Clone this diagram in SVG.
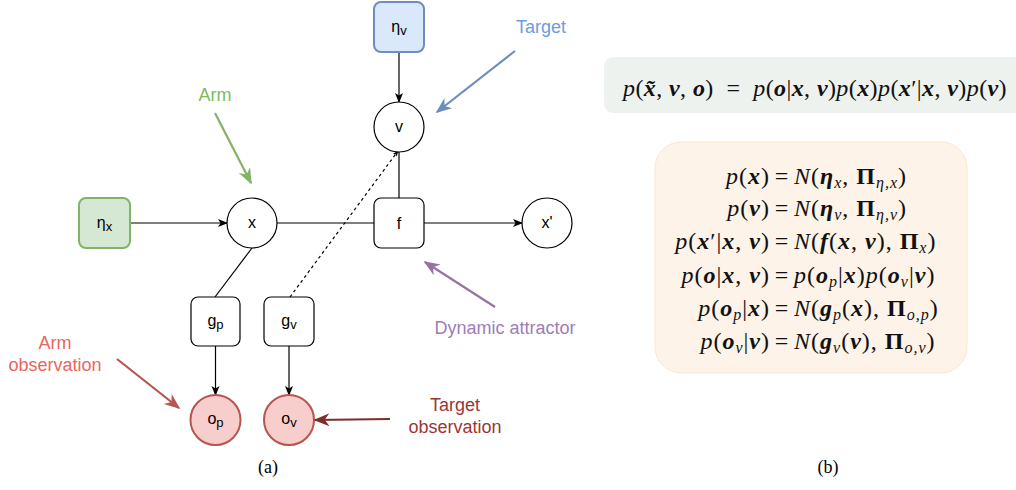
<svg xmlns="http://www.w3.org/2000/svg" width="1016" height="490" viewBox="0 0 1016 490">
  <defs>
    <style>
      .node { fill: #ffffff; stroke: #000000; stroke-width: 1.2; }
      .prior-v { fill: #dae8fc; stroke: #6c8ebf; stroke-width: 2; }
      .prior-x { fill: #d5e8d4; stroke: #82b366; stroke-width: 2; }
      .obs { fill: #f8cecc; stroke: #b85450; stroke-width: 2; }
      .lbl { font-family: "Liberation Sans", Arial, sans-serif; font-size: 16px; fill: #000; text-anchor: middle; }
      .sub { font-size: 13px; }
      .edge { fill: none; stroke: #000; stroke-width: 1.2; }
      .dash { stroke-dasharray: 3 3; }
      .note { font-family: "Liberation Sans", Arial, sans-serif; font-size: 18px; text-anchor: middle; }
      .cap { font-family: "Liberation Serif", "Times New Roman", serif; font-size: 18px; text-anchor: middle; fill: #000; }
      .m { font-family: "Liberation Serif", "DejaVu Serif", serif; font-size: 24px; fill: #111; }
      .wide { letter-spacing: 1px; }
      .i { font-style: italic; }
      .b { font-style: italic; font-weight: bold; }
      .B { font-weight: bold; font-style: normal; }
      .s { font-size: 16px; }
    </style>
    <marker id="ah" viewBox="0 0 10 10" refX="9" refY="5" markerWidth="10" markerHeight="10" markerUnits="userSpaceOnUse" orient="auto">
      <path d="M0,1 L10,5 L0,9 L2.5,5 Z" fill="#000"/>
    </marker>
    <marker id="ah-small" viewBox="0 0 10 10" refX="9" refY="5" markerWidth="6" markerHeight="6" markerUnits="userSpaceOnUse" orient="auto">
      <path d="M0,1 L10,5 L0,9 L2.5,5 Z" fill="#000"/>
    </marker>
    <marker id="ah-green" viewBox="0 0 10 10" refX="9" refY="5" markerWidth="16" markerHeight="16" markerUnits="userSpaceOnUse" orient="auto">
      <path d="M0,1 L10,5 L0,9 L3,5 Z" fill="#82b366"/>
    </marker>
    <marker id="ah-blue" viewBox="0 0 10 10" refX="9" refY="5" markerWidth="16" markerHeight="16" markerUnits="userSpaceOnUse" orient="auto">
      <path d="M0,1 L10,5 L0,9 L3,5 Z" fill="#6c8ebf"/>
    </marker>
    <marker id="ah-purple" viewBox="0 0 10 10" refX="9" refY="5" markerWidth="16" markerHeight="16" markerUnits="userSpaceOnUse" orient="auto">
      <path d="M0,1 L10,5 L0,9 L3,5 Z" fill="#9673a6"/>
    </marker>
    <marker id="ah-red" viewBox="0 0 10 10" refX="9" refY="5" markerWidth="16" markerHeight="16" markerUnits="userSpaceOnUse" orient="auto">
      <path d="M0,1 L10,5 L0,9 L3,5 Z" fill="#b85450"/>
    </marker>
    <marker id="ah-dark" viewBox="0 0 10 10" refX="9" refY="5" markerWidth="16" markerHeight="16" markerUnits="userSpaceOnUse" orient="auto">
      <path d="M0,1 L10,5 L0,9 L3,5 Z" fill="#7a2e2e"/>
    </marker>
  </defs>

  <rect width="1016" height="490" fill="#ffffff"/>

  <!-- connectors of the graph -->
  <g id="connectors">
    <line class="edge" x1="399" y1="52" x2="399" y2="102" marker-end="url(#ah)"/>
    <line class="edge" x1="130" y1="223" x2="227" y2="223" marker-end="url(#ah)"/>
    <line class="edge" x1="277" y1="223" x2="374" y2="223"/>
    <line class="edge" x1="424" y1="223" x2="522" y2="223" marker-end="url(#ah)"/>
    <line class="edge" x1="399" y1="198" x2="399" y2="152"/>
    <line class="edge dash" x1="290" y1="297" x2="398" y2="151" marker-end="url(#ah-small)"/>
    <line class="edge" x1="252" y1="248" x2="215" y2="297"/>
    <line class="edge" x1="215.5" y1="346" x2="215.5" y2="395" marker-end="url(#ah)"/>
    <line class="edge" x1="289" y1="346" x2="289" y2="395" marker-end="url(#ah)"/>
  </g>

  <g id="eta_v">
    <rect class="prior-v" x="374" y="2" width="50" height="50" rx="7"/>
    <text class="lbl" x="399" y="32">η<tspan class="sub" dy="3">v</tspan></text>
  </g>
  <g id="v">
    <circle class="node" cx="399" cy="127" r="25"/>
    <text class="lbl" x="399" y="132">v</text>
  </g>
  <g id="eta_x">
    <rect class="prior-x" x="79" y="198" width="51" height="50" rx="7"/>
    <text class="lbl" x="104.5" y="228">η<tspan class="sub" dy="3">x</tspan></text>
  </g>
  <g id="x">
    <circle class="node" cx="252" cy="223" r="25"/>
    <text class="lbl" x="252" y="228">x</text>
  </g>
  <g id="f">
    <rect class="node" x="374" y="198" width="50" height="50" rx="7"/>
    <text class="lbl" x="399" y="229">f</text>
  </g>
  <g id="x_prime">
    <circle class="node" cx="547" cy="223" r="25"/>
    <text class="lbl" x="547" y="228">x'</text>
  </g>
  <g id="g_p">
    <rect class="node" x="191" y="297" width="49" height="49" rx="7"/>
    <text class="lbl" x="215.5" y="326">g<tspan class="sub" dy="3">p</tspan></text>
  </g>
  <g id="g_v">
    <rect class="node" x="264" y="297" width="50" height="49" rx="7"/>
    <text class="lbl" x="289" y="326">g<tspan class="sub" dy="3">v</tspan></text>
  </g>
  <g id="o_p">
    <circle class="obs" cx="215.5" cy="420" r="25"/>
    <text class="lbl" x="215.5" y="424">o<tspan class="sub" dy="3">p</tspan></text>
  </g>
  <g id="o_v">
    <circle class="obs" cx="289" cy="420" r="25"/>
    <text class="lbl" x="289" y="424">o<tspan class="sub" dy="3">v</tspan></text>
  </g>

  <!-- annotations -->
  <g id="note-arm">
    <text class="note" x="215" y="101" fill="#7dba5c">Arm</text>
    <line x1="215" y1="113" x2="251" y2="183" stroke="#82b366" stroke-width="2.2" marker-end="url(#ah-green)"/>
  </g>
  <g id="note-target">
    <text class="note" x="541" y="33" fill="#6d9be0">Target</text>
    <line x1="515" y1="51" x2="437" y2="112" stroke="#6c8ebf" stroke-width="2.2" marker-end="url(#ah-blue)"/>
  </g>
  <g id="note-dynamic">
    <text class="note" x="505" y="334" fill="#a07cb6">Dynamic attractor</text>
    <line x1="495" y1="307" x2="425" y2="262" stroke="#9673a6" stroke-width="2.2" marker-end="url(#ah-purple)"/>
  </g>
  <g id="note-arm-obs">
    <text class="note" x="55" y="349" fill="#ea6560">Arm</text>
    <text class="note" x="55" y="371" fill="#ea6560">observation</text>
    <line x1="117" y1="359" x2="179" y2="408" stroke="#b85450" stroke-width="2.2" marker-end="url(#ah-red)"/>
  </g>
  <g id="note-target-obs">
    <text class="note" x="455" y="411" fill="#9a3636">Target</text>
    <text class="note" x="455" y="433" fill="#9a3636">observation</text>
    <line x1="390" y1="419" x2="315" y2="420" stroke="#7a2e2e" stroke-width="2.2" marker-end="url(#ah-dark)"/>
  </g>

  <text class="cap" x="268" y="473">(a)</text>
  <text class="cap" x="828" y="473">(b)</text>

  <!-- joint distribution -->
  <g id="joint">
    <rect x="604" y="57" width="430" height="56" rx="9" fill="#eef2ee"/>
    <text class="m" x="815" y="96" text-anchor="middle" letter-spacing="0.4" xml:space="preserve"><tspan class="i">p</tspan>(<tspan class="b">x̃</tspan>, <tspan class="b">v</tspan>, <tspan class="b">o</tspan>)  =  <tspan class="i">p</tspan>(<tspan class="b">o</tspan>|<tspan class="b">x</tspan>, <tspan class="b">v</tspan>)<tspan class="i">p</tspan>(<tspan class="b">x</tspan>)<tspan class="i">p</tspan>(<tspan class="b">x</tspan>′|<tspan class="b">x</tspan>, <tspan class="b">v</tspan>)<tspan class="i">p</tspan>(<tspan class="b">v</tspan>)</text>
  </g>

  <!-- factorised distributions -->
  <g id="factors">
    <rect x="655" y="142" width="312" height="231" rx="26" fill="#fdf3e8" stroke="#fbe7d2" stroke-width="1"/>
    <g class="m wide">
      <text x="770" y="184" text-anchor="end"><tspan class="i">p</tspan>(<tspan class="b">x</tspan>)</text>
      <text x="782" y="184" text-anchor="middle">=</text>
      <text x="794" y="184"><tspan class="i">N</tspan>(<tspan class="b">η</tspan><tspan class="s i" dy="4">x</tspan><tspan dy="-4">, </tspan><tspan class="B">Π</tspan><tspan class="s i" dy="4">η,x</tspan><tspan dy="-4">)</tspan></text>

      <text x="770" y="216" text-anchor="end"><tspan class="i">p</tspan>(<tspan class="b">v</tspan>)</text>
      <text x="782" y="216" text-anchor="middle">=</text>
      <text x="794" y="216"><tspan class="i">N</tspan>(<tspan class="b">η</tspan><tspan class="s i" dy="4">v</tspan><tspan dy="-4">, </tspan><tspan class="B">Π</tspan><tspan class="s i" dy="4">η,v</tspan><tspan dy="-4">)</tspan></text>

      <text x="770" y="249" text-anchor="end"><tspan class="i">p</tspan>(<tspan class="b">x</tspan>′|<tspan class="b">x</tspan>, <tspan class="b">v</tspan>)</text>
      <text x="782" y="249" text-anchor="middle">=</text>
      <text x="794" y="249"><tspan class="i">N</tspan>(<tspan class="b">f</tspan>(<tspan class="b">x</tspan>, <tspan class="b">v</tspan>), <tspan class="B">Π</tspan><tspan class="s i" dy="4">x</tspan><tspan dy="-4">)</tspan></text>

      <text x="770" y="283" text-anchor="end"><tspan class="i">p</tspan>(<tspan class="b">o</tspan>|<tspan class="b">x</tspan>, <tspan class="b">v</tspan>)</text>
      <text x="782" y="283" text-anchor="middle">=</text>
      <text x="794" y="283"><tspan class="i">p</tspan>(<tspan class="b">o</tspan><tspan class="s i" dy="4">p</tspan><tspan dy="-4">|</tspan><tspan class="b">x</tspan>)<tspan class="i">p</tspan>(<tspan class="b">o</tspan><tspan class="s i" dy="4">v</tspan><tspan dy="-4">|</tspan><tspan class="b">v</tspan>)</text>

      <text x="770" y="316" text-anchor="end"><tspan class="i">p</tspan>(<tspan class="b">o</tspan><tspan class="s i" dy="4">p</tspan><tspan dy="-4">|</tspan><tspan class="b">x</tspan>)</text>
      <text x="782" y="316" text-anchor="middle">=</text>
      <text x="794" y="316"><tspan class="i">N</tspan>(<tspan class="b">g</tspan><tspan class="s i" dy="4">p</tspan><tspan dy="-4">(</tspan><tspan class="b">x</tspan>), <tspan class="B">Π</tspan><tspan class="s i" dy="4">o,p</tspan><tspan dy="-4">)</tspan></text>

      <text x="770" y="349" text-anchor="end"><tspan class="i">p</tspan>(<tspan class="b">o</tspan><tspan class="s i" dy="4">v</tspan><tspan dy="-4">|</tspan><tspan class="b">v</tspan>)</text>
      <text x="782" y="349" text-anchor="middle">=</text>
      <text x="794" y="349"><tspan class="i">N</tspan>(<tspan class="b">g</tspan><tspan class="s i" dy="4">v</tspan><tspan dy="-4">(</tspan><tspan class="b">v</tspan>), <tspan class="B">Π</tspan><tspan class="s i" dy="4">o,v</tspan><tspan dy="-4">)</tspan></text>
    </g>
  </g>
</svg>
